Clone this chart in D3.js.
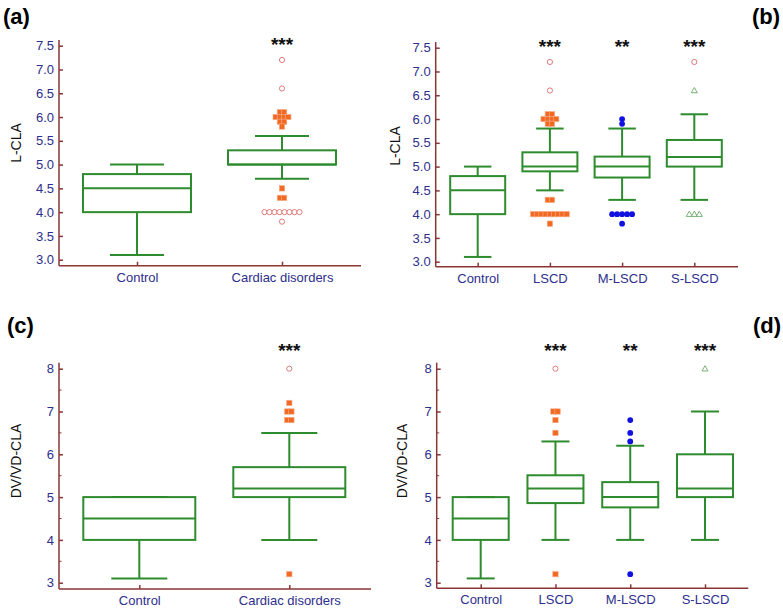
<!DOCTYPE html>
<html><head><meta charset="utf-8">
<script src="https://cdn.jsdelivr.net/npm/d3@7"></script>
<style>body{margin:0;background:#fff}svg{display:block}text{font-family:"Liberation Sans",Arial,sans-serif}</style>
</head><body>
<script>
// ---------- DATA ----------
const catsTwo = ["Control", "Cardiac disorders"];
const catsFour = ["Control", "LSCD", "M-LSCD", "S-LSCD"];
const ticksLCLA = [3.0, 3.5, 4.0, 4.5, 5.0, 5.5, 6.0, 6.5, 7.0, 7.5];
const ticksDV = [3, 4, 5, 6, 7, 8];
const minorDV = [3.5, 4.5, 5.5, 6.5, 7.5];
// box stats: [low whisker, Q1, median, Q3, high whisker]
const boxA = [[3.1, 4.0, 4.5, 4.8, 5.0], [4.7, 5.0, 5.0, 5.3, 5.6]];
const boxB = [[3.1, 4.0, 4.5, 4.8, 5.0], [4.5, 4.9, 5.0, 5.3, 5.8], [4.3, 4.77, 5.0, 5.21, 5.8], [4.3, 5.0, 5.2, 5.56, 6.1]];
const boxC = [[3.1, 4.0, 4.5, 5.0, 5.0], [4.0, 5.0, 5.2, 5.7, 6.5]];
const boxD = [[3.1, 4.0, 4.5, 5.0, 5.0], [4.0, 4.86, 5.2, 5.51, 6.3], [4.0, 4.76, 5.0, 5.35, 6.2], [4.0, 5.0, 5.2, 6.0, 7.0]];
// outliers: [category index, value, count, marker]
const outA = [[1,7.2,1,"circle"],[1,6.6,1,"circle"],[1,6.1,2,"square"],[1,6.0,4,"square"],[1,5.9,2,"square"],[1,5.8,1,"square"],
  [1,4.5,1,"square"],[1,4.3,2,"square"],[1,4.0,8,"circle"],[1,3.8,1,"circle"]];
const outB = [[1,7.2,1,"circle"],[1,6.6,1,"circle"],[1,6.1,2,"square"],[1,6.0,4,"square"],[1,5.9,2,"square"],
  [1,4.3,2,"square"],[1,4.0,9,"square"],[1,3.8,1,"square"],
  [2,6.0,1,"dot"],[2,5.9,1,"dot"],[2,4.0,5,"dot"],[2,3.8,1,"dot"],
  [3,7.2,1,"circle"],[3,6.6,1,"triangle"],[3,4.0,3,"triangle"]];
const outC = [[1,8.0,1,"circle"],[1,7.2,1,"square"],[1,7.0,2,"square"],[1,6.8,2,"square"],[1,3.2,1,"square"]];
const outD = [[1,8.0,1,"circle"],[1,7.0,2,"square"],[1,6.8,1,"square"],[1,6.5,1,"square"],[1,3.2,1,"square"],
  [2,6.8,1,"dot"],[2,6.5,1,"dot"],[2,6.3,1,"dot"],[2,3.2,1,"dot"],[3,8.0,1,"triangle"]];
const starsA = ["", "***"];
const starsB = ["", "***", "**", "***"];

// ---------- DRAW ----------
const W = 783, H = 609;
const svg = d3.select("body").append("svg").attr("width", W).attr("height", H);
const AXIS = "#8b3535", LBL = "#2e2e8c", GREEN = "#2e8b2e";

function panel(o) {
  const g = svg.append("g");
  const y = d3.scaleLinear().domain([o.tLo, o.tHi]).range([o.yLo, o.yHi]);
  const x = d3.scalePoint().domain(o.cats).range([o.c0, o.c1]);
  g.append("line").attr("x1", o.ax).attr("x2", o.ax).attr("y1", o.top).attr("y2", o.base)
    .attr("stroke", AXIS).attr("stroke-width", 1.5);
  g.append("line").attr("x1", o.ax).attr("x2", o.right).attr("y1", o.base).attr("y2", o.base)
    .attr("stroke", AXIS).attr("stroke-width", 1.5);
  const ya = d3.axisRight(y).tickValues(o.ticks).tickSize(4).tickFormat(o.fmt);
  const yg = g.append("g").attr("transform", `translate(${o.ax},0)`).call(ya);
  yg.select(".domain").remove();
  yg.selectAll(".tick line").attr("stroke", AXIS).attr("stroke-width", 1.5);
  yg.selectAll(".tick text").attr("x", -5).attr("text-anchor", "end").attr("fill", LBL)
    .attr("font-size", 13).attr("font-family", "Liberation Sans, Arial, sans-serif");
  if (o.minor) {
    g.selectAll(".mn").data(o.minor).join("line").attr("x1", o.ax).attr("x2", o.ax + 2.5)
      .attr("y1", d => y(d)).attr("y2", d => y(d)).attr("stroke", AXIS).attr("stroke-width", 1);
  }
  const xa = d3.axisTop(x).tickSize(4).tickPadding(0);
  const xg = g.append("g").attr("transform", `translate(0,${o.base})`).call(xa);
  xg.select(".domain").remove();
  xg.selectAll(".tick line").attr("stroke", AXIS).attr("stroke-width", 1.5);
  xg.selectAll(".tick text").attr("y", 16).attr("dy", "0").attr("fill", LBL)
    .attr("font-size", 13).attr("font-family", "Liberation Sans, Arial, sans-serif");
  const bw = o.bw;
  o.box.forEach((b, i) => {
    const cx = x(o.cats[i]);
    const L = (x1, y1, x2, y2) => g.append("line").attr("x1", x1).attr("y1", y1).attr("x2", x2).attr("y2", y2)
      .attr("stroke", GREEN).attr("stroke-width", 2);
    L(cx, y(b[0]), cx, y(b[1]));
    L(cx, y(b[3]), cx, y(b[4]));
    L(cx - bw / 4, y(b[0]), cx + bw / 4, y(b[0]));
    L(cx - bw / 4, y(b[4]), cx + bw / 4, y(b[4]));
    g.append("rect").attr("x", cx - bw / 2).attr("y", y(b[3])).attr("width", bw).attr("height", y(b[1]) - y(b[3]))
      .attr("fill", "none").attr("stroke", GREEN).attr("stroke-width", 2);
    L(cx - bw / 2, y(b[2]), cx + bw / 2, y(b[2]));
    if (o.stars[i]) g.append("text").attr("x", cx).attr("y", o.starY).attr("text-anchor", "middle")
      .attr("font-size", 19).attr("font-weight", "bold").attr("fill", "#111").text(o.stars[i]);
  });
  o.out.forEach(([ci, v, n, m]) => {
    const cx = x(o.cats[ci]);
    const sp = m === "square" ? 4.2 : 5;
    for (let k = 0; k < n; k++) {
      const px = cx + (k - (n - 1) / 2) * sp, py = y(v);
      if (m === "circle") g.append("circle").attr("cx", px).attr("cy", py).attr("r", 2.6)
        .attr("fill", "#fff").attr("stroke", "#e07a7a").attr("stroke-width", 1);
      else if (m === "square") g.append("rect").attr("x", px - 2.7).attr("y", py - 2.7).attr("width", 5.4).attr("height", 5.4)
        .attr("fill", "#f26a22").attr("stroke", "#f7b090").attr("stroke-width", 0.6);
      else if (m === "dot") g.append("circle").attr("cx", px).attr("cy", py).attr("r", 2.9).attr("fill", "#1010e0");
      else g.append("path").attr("d", d3.symbol(d3.symbolTriangle, 16)()).attr("transform", `translate(${px},${py + 0.5})`)
        .attr("fill", "#fff").attr("stroke", "#6aa86a").attr("stroke-width", 0.9);
    }
  });
  g.append("text").attr("transform", `translate(${o.ylx},${o.yly}) rotate(-90)`).attr("text-anchor", "middle")
    .attr("font-size", 14).attr("fill", "#111").text(o.ylab);
  g.append("text").attr("x", o.tx).attr("y", o.ty).attr("text-anchor", o.ta).attr("font-size", 22)
    .attr("font-weight", "bold").attr("font-family", "Open Sans, Liberation Sans, sans-serif").attr("fill", "#000").text(o.tag);
}

const f1 = d3.format(".1f"), f0 = d3.format("d");
panel({cats: catsTwo, box: boxA, out: outA, stars: starsA, ticks: ticksLCLA, fmt: f1, tLo: 3.0, tHi: 7.5, yLo: 259.7, yHi: 45.7,
  ax: 59, top: 40, base: 265.7, right: 361, c0: 137, c1: 282, bw: 108, starY: 51, ylab: "L-CLA", ylx: 21, yly: 143,
  tag: "(a)", tx: 3, ty: 24, ta: "start"});
panel({cats: catsFour, box: boxB, out: outB, stars: starsB, ticks: ticksLCLA, fmt: f1, tLo: 3.0, tHi: 7.5, yLo: 261.7, yHi: 47.7,
  ax: 435.7, top: 42, base: 266.7, right: 738, c0: 477.7, c1: 694.3, bw: 55, starY: 53, ylab: "L-CLA", ylx: 400, yly: 146,
  tag: "(b)", tx: 780, ty: 24, ta: "end"});
panel({cats: catsTwo, box: boxC, out: outC, stars: starsA, ticks: ticksDV, minor: minorDV, fmt: f0, tLo: 3, tHi: 8, yLo: 582.7, yHi: 368.7,
  ax: 59, top: 362.7, base: 589, right: 371, c0: 139.3, c1: 289.3, bw: 112, starY: 357, ylab: "DV/VD-CLA", ylx: 21, yly: 461,
  tag: "(c)", tx: 7, ty: 333, ta: "start"});
panel({cats: catsFour, box: boxD, out: outD, stars: starsB, ticks: ticksDV, minor: minorDV, fmt: f0, tLo: 3, tHi: 8, yLo: 582.7, yHi: 368.7,
  ax: 436.7, top: 362.7, base: 588.3, right: 748.3, c0: 480.7, c1: 705, bw: 56, starY: 357, ylab: "DV/VD-CLA", ylx: 407, yly: 461,
  tag: "(d)", tx: 781, ty: 333, ta: "end"});
</script>
</body></html>
